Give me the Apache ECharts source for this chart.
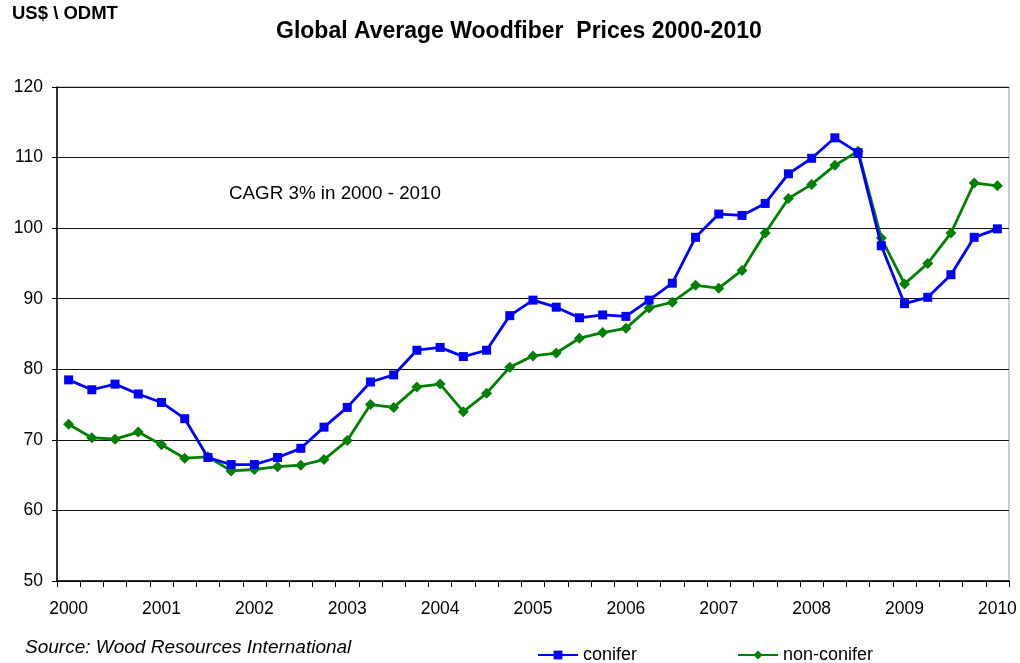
<!DOCTYPE html>
<html>
<head>
<meta charset="utf-8">
<title>Global Average Woodfiber Prices 2000-2010</title>
<script src="https://cdn.jsdelivr.net/npm/echarts@6/dist/echarts.min.js"></script>
<style>
    html, body { margin: 0; padding: 0; background: #fff; }
    #chart { width: 1020px; height: 663px; }
</style>
</head>
<body>
<div id="chart"></div>
<script>
// quarterly points, 2000 Q1 .. 2010 Q1
var quarters = [
    '2000', '2000Q2', '2000Q3', '2000Q4',
    '2001', '2001Q2', '2001Q3', '2001Q4',
    '2002', '2002Q2', '2002Q3', '2002Q4',
    '2003', '2003Q2', '2003Q3', '2003Q4',
    '2004', '2004Q2', '2004Q3', '2004Q4',
    '2005', '2005Q2', '2005Q3', '2005Q4',
    '2006', '2006Q2', '2006Q3', '2006Q4',
    '2007', '2007Q2', '2007Q3', '2007Q4',
    '2008', '2008Q2', '2008Q3', '2008Q4',
    '2009', '2009Q2', '2009Q3', '2009Q4',
    '2010'
];

var conifer = [
    78.5, 77.1, 77.9, 76.5, 75.3, 73.0, 67.5, 66.5,
    66.5, 67.5, 68.8, 71.8, 74.6, 78.2, 79.2, 82.7,
    83.1, 81.8, 82.7, 87.6, 89.8, 88.8, 87.3, 87.7,
    87.5, 89.8, 92.2, 98.7, 102.0, 101.8, 103.5, 107.7,
    109.9, 112.8, 110.7, 97.5, 89.3, 90.2, 93.4, 98.7,
    99.9
];

var nonConifer = [
    72.2, 70.3, 70.1, 71.1, 69.3, 67.4, 67.6, 65.6,
    65.8, 66.2, 66.4, 67.2, 69.9, 75.0, 74.6, 77.5,
    77.9, 74.0, 76.6, 80.3, 81.9, 82.3, 84.4, 85.2,
    85.8, 88.7, 89.5, 91.9, 91.5, 94.0, 99.3, 104.2,
    106.2, 108.9, 110.9, 98.6, 92.1, 95.0, 99.3, 106.4,
    106.0
];

var yTicks = { min: 50, max: 120, step: 10 };

var FONT = 'Liberation Sans, Arial, sans-serif';

function drawChart() {
    var myChart = echarts.init(document.getElementById('chart'));

    var option = {
        backgroundColor: '#fff',
        animation: false,
        textStyle: { fontFamily: FONT, color: '#000' },
        grid: {
            left: 57,
            right: 11,
            top: 87,
            bottom: 82,
            show: true,
            borderColor: '#999',
            borderWidth: 1
        },
        legend: {
            left: 537,
            top: 646,
            padding: 0,
            itemWidth: 40,
            itemHeight: 11,
            itemGap: 100,
            textStyle: { fontFamily: FONT, fontSize: 18, color: '#000' },
            data: ['conifer', 'non-conifer']
        },
        xAxis: {
            type: 'category',
            boundaryGap: true,
            data: quarters,
            axisLine: { lineStyle: { color: '#000', width: 1.5 } },
            axisTick: {
                show: true,
                interval: 0,
                length: 6,
                lineStyle: { color: '#000' }
            },
            axisLabel: {
                interval: 3,
                margin: 19,
                fontSize: 17.5,
                color: '#000',
                fontFamily: FONT,
                formatter: function (v) {
                    return v.substring(0, 4);
                }
            },
            splitLine: { show: false }
        },
        yAxis: {
            type: 'value',
            min: yTicks.min,
            max: yTicks.max,
            interval: yTicks.step,
            axisLine: { show: true, lineStyle: { color: '#000', width: 1.5 } },
            axisTick: { show: true, length: 5, lineStyle: { color: '#000' } },
            axisLabel: {
                margin: 14,
                fontSize: 17.5,
                color: '#000',
                fontFamily: FONT
            },
            splitLine: { show: true, lineStyle: { color: '#111', width: 1 } }
        },
        graphic: [
            {
                type: 'text',
                style: {
                    x: 276, y: 32,
                    text: 'Global Average Woodfiber  Prices 2000-2010',
                    fontFamily: FONT, fontSize: 23, fontWeight: 'bold',
                    fill: '#000', textVerticalAlign: 'middle'
                }
            },
            {
                type: 'text',
                style: {
                    x: 12, y: 14,
                    text: 'US$ \\ ODMT',
                    fontFamily: FONT, fontSize: 18.5, fontWeight: 'bold',
                    fill: '#000', textVerticalAlign: 'middle'
                }
            },
            {
                type: 'text',
                style: {
                    x: 229, y: 194,
                    text: 'CAGR 3% in 2000 - 2010',
                    fontFamily: FONT, fontSize: 18.8,
                    fill: '#000', textVerticalAlign: 'middle'
                }
            },
            {
                type: 'text',
                style: {
                    x: 25, y: 648,
                    text: 'Source: Wood Resources International',
                    fontFamily: FONT, fontSize: 19, fontStyle: 'italic',
                    fill: '#000', textVerticalAlign: 'middle'
                }
            }
        ],
        series: [
            {
                name: 'conifer',
                type: 'line',
                data: conifer,
                symbol: 'rect',
                symbolSize: 9,
                z: 3,
                lineStyle: { color: '#0000ff', width: 2.8 },
                itemStyle: { color: '#0000ff' }
            },
            {
                name: 'non-conifer',
                type: 'line',
                data: nonConifer,
                symbol: 'diamond',
                symbolSize: 11,
                z: 2,
                lineStyle: { color: '#008000', width: 2.8 },
                itemStyle: { color: '#008000' }
            }
        ]
    };

    myChart.setOption(option);
}

drawChart();
</script>
</body>
</html>
